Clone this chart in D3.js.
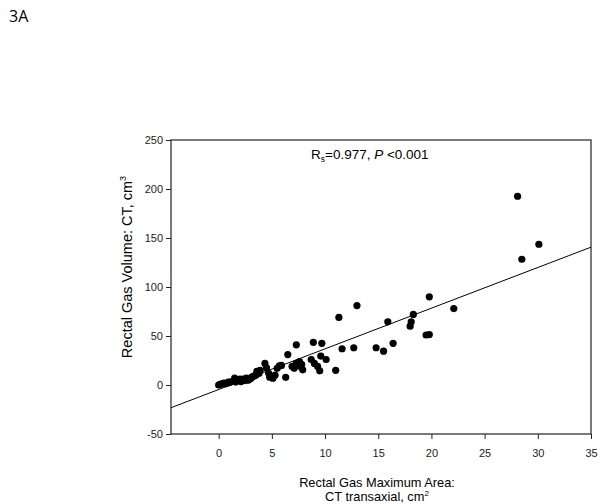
<!DOCTYPE html>
<html>
<head>
<meta charset="utf-8">
<script src="https://cdn.jsdelivr.net/npm/d3@7"></script>
<style>
  body { margin: 0; background: #fff; }
  text { font-family: "Liberation Sans", Arial, sans-serif; }
</style>
</head>
<body>
<div id="chart"></div>
<script>
var width = 600
var height = 504

// data
var areaX = [0, 0.1, 0.2, 0.4, 0.5, 0.7, 0.9, 1.0, 1.2, 1.4, 1.5, 1.6, 1.8, 2.0, 2.1, 2.3, 2.5, 2.6, 2.8, 3.0, 3.1, 3.3, 3.5,
  3.6, 3.8, 3.9, 4.35, 4.5, 4.7, 4.8, 5.1, 5.3, 5.5, 5.7, 5.9, 6.3, 6.5, 6.9, 7.1, 7.3, 7.3, 7.6, 7.7, 7.9, 7.8,
  8.7, 8.9, 9.0, 9.3, 9.5, 9.6, 9.7, 10.1, 11.0, 11.3, 11.6, 12.7, 13.0, 14.8, 15.5, 15.9, 16.4, 18.0, 18.1, 18.3,
  19.5, 19.8, 19.8, 22.1, 28.1, 28.5, 30.1]
var volumeY = [0, 0.5, 1, 1.5, 2, 1.5, 3, 2.5, 3.5, 4, 7, 3, 5, 6, 3.5, 6, 4.5, 7, 5, 6.5, 8, 9, 10,
  14, 12, 15, 22, 17.5, 12, 8, 7, 10, 17, 19.5, 20, 7.8, 31, 19, 17, 41, 22, 24, 19, 15.5, 21,
  26, 43.5, 22, 19, 14.5, 29.5, 42.5, 26, 15, 69, 37, 38, 81, 38, 34.5, 64.5, 42.5, 60, 64.5, 72,
  51, 51.5, 90, 78, 192.6, 128.3, 143.6]

var xTicks = [0, 5, 10, 15, 20, 25, 30, 35]
var yTicks = [-50, 0, 50, 100, 150, 200, 250]

// fitted line: volume = slope * area + intercept
var slope = 4.15
var intercept = -4.6

var points = areaX.map(function(d, i) { return {x: d, y: volumeY[i]} })

var svg = d3.select("#chart")
  .append("svg")
    .attr("width", width)
    .attr("height", height)

var plotLeft = 171, plotRight = 591, plotTop = 140, plotBottom = 434

var x = d3.scaleLinear()
  .domain([-4.48, 35])
  .range([plotLeft, plotRight])

var y = d3.scaleLinear()
  .domain([-50, 250])
  .range([plotBottom, plotTop])

svg.append("text")
  .attr("x", 9)
  .attr("y", 22)
  .style("font-family", "'Open Sans', sans-serif")
  .style("font-size", "16px")
  .text("3A")

// frame
svg.append("rect")
  .attr("x", plotLeft)
  .attr("y", plotTop)
  .attr("width", plotRight - plotLeft)
  .attr("height", plotBottom - plotTop)
  .attr("fill", "none")
  .attr("stroke", "#222")
  .attr("stroke-width", 1.2)

var plain = function(d) { return String(d) }

var xAxis = svg.append("g")
  .attr("transform", "translate(0," + plotBottom + ")")
  .call(d3.axisBottom(x).tickValues(xTicks).tickFormat(plain).tickSize(5).tickPadding(10))
xAxis.select(".domain").remove()

var yAxis = svg.append("g")
  .attr("transform", "translate(" + plotLeft + ",0)")
  .call(d3.axisLeft(y).tickValues(yTicks).tickFormat(plain).tickSize(5).tickPadding(3))
yAxis.select(".domain").remove()

svg.selectAll(".tick text")
  .style("font-family", "'Liberation Sans', Arial, sans-serif")
  .style("font-size", "11px")
  .attr("fill", "#222")
svg.selectAll(".tick line").attr("stroke", "#222")

// regression line
var clip = svg.append("clipPath").attr("id", "plotclip")
clip.append("rect").attr("x", plotLeft).attr("y", plotTop).attr("width", plotRight - plotLeft).attr("height", plotBottom - plotTop)

svg.append("line")
  .attr("clip-path", "url(#plotclip)")
  .attr("x1", x(-4.48))
  .attr("y1", y(slope * -4.48 + intercept))
  .attr("x2", x(35))
  .attr("y2", y(slope * 35 + intercept))
  .attr("stroke", "#000")
  .attr("stroke-width", 1)

svg.append("g")
  .selectAll("circle")
  .data(points)
  .enter()
  .append("circle")
    .attr("cx", function(d) { return x(d.x) })
    .attr("cy", function(d) { return y(d.y) })
    .attr("r", 3.6)
    .attr("fill", "#000")

// stats label
var stat = svg.append("text")
  .attr("x", 311)
  .attr("y", 159)
  .style("font-size", "13.5px")
stat.append("tspan").text("R")
stat.append("tspan").attr("dy", 3).style("font-size", "8.5px").text("s")
stat.append("tspan").attr("dy", -3).text("=0.977, ")
stat.append("tspan").style("font-style", "italic").text("P")
stat.append("tspan").text(" <0.001")

// axis titles
var xt = svg.append("text")
  .attr("text-anchor", "middle")
  .style("font-size", "12.8px")
xt.append("tspan").attr("x", 377).attr("y", 487).text("Rectal Gas Maximum Area:")
xt.append("tspan").attr("x", 377).attr("y", 501).text("CT transaxial, cm")
xt.append("tspan").attr("dy", -5).style("font-size", "8px").text("2")

var yt = svg.append("text")
  .attr("text-anchor", "middle")
  .attr("transform", "translate(132,267) rotate(-90)")
  .style("font-size", "14.5px")
yt.append("tspan").text("Rectal Gas Volume: CT, cm")
yt.append("tspan").attr("dy", -6).style("font-size", "9px").text("3")
</script>
</body>
</html>
